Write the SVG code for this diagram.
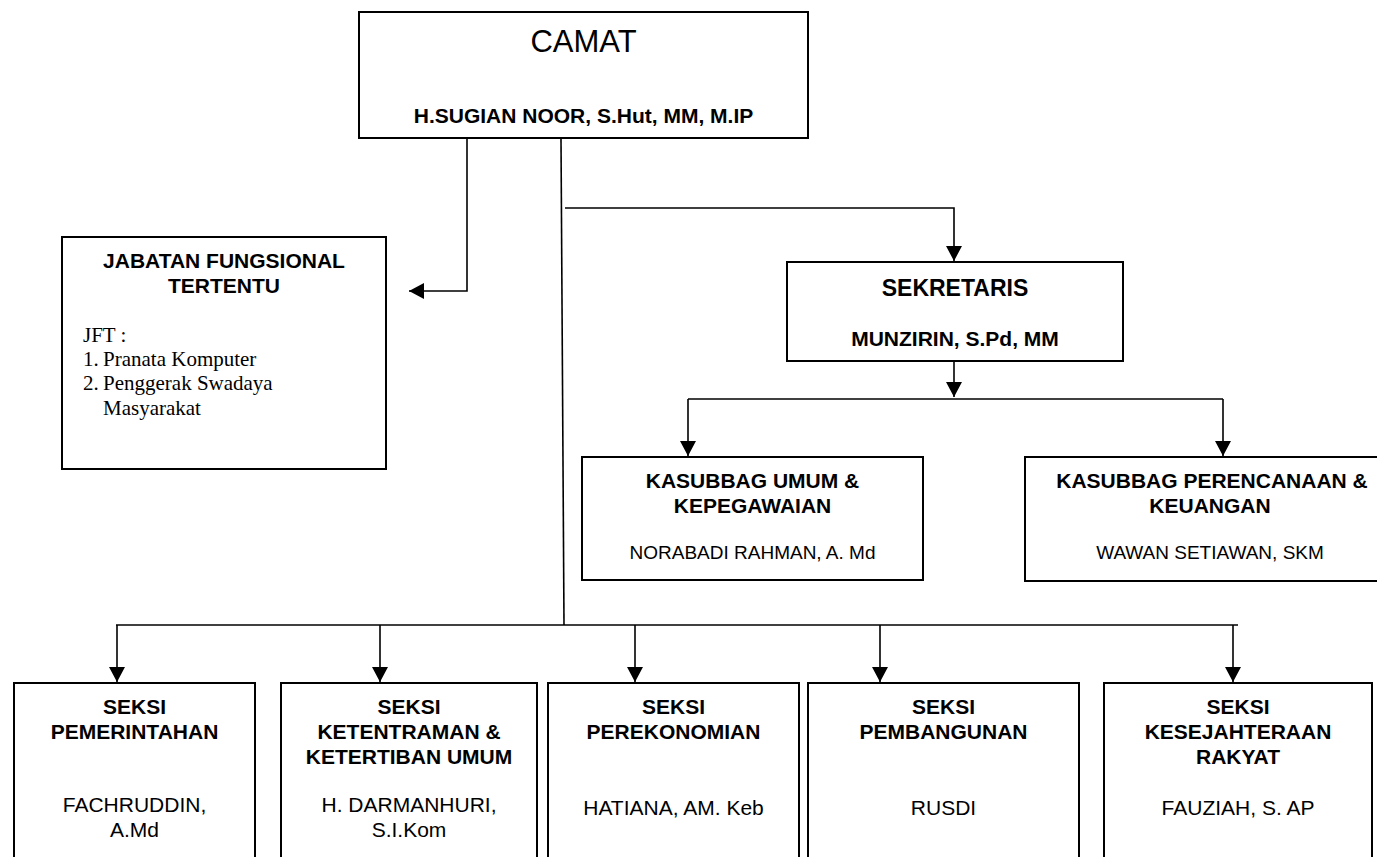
<svg xmlns="http://www.w3.org/2000/svg" width="1377" height="857" viewBox="0 0 1377 857">
<style>
.box{fill:#fff;stroke:#000;stroke-width:2}
.ln{fill:none;stroke:#000;stroke-width:1.6}
.t{font-family:"Liberation Sans",Arial,sans-serif;font-size:21px;fill:#000;text-anchor:middle}
.b{font-weight:bold}
.s{font-family:"Liberation Serif","Times New Roman",serif;font-size:21px;fill:#000}
</style>
<defs>
<marker id="arr" markerUnits="userSpaceOnUse" markerWidth="16" markerHeight="16" refX="15" refY="8" orient="auto">
<path d="M0,0 L15,8 L0,16 z" fill="#000"/>
</marker>
</defs>
<rect width="1377" height="857" fill="#fff"/>
<g id="connectors">
<polyline class="ln" points="467,139 467,291 409,291" marker-end="url(#arr)"/>
<line class="ln" x1="561" y1="139" x2="564" y2="625"/>
<polyline class="ln" points="565,208 954,208 954,261" marker-end="url(#arr)"/>
<polyline class="ln" points="954,362 954,397" marker-end="url(#arr)"/>
<line class="ln" x1="688" y1="399" x2="1223" y2="399"/>
<polyline class="ln" points="688,399 688,456" marker-end="url(#arr)"/>
<polyline class="ln" points="1223,399 1223,456" marker-end="url(#arr)"/>
<line class="ln" x1="116" y1="625" x2="1238" y2="625"/>
<polyline class="ln" points="117,625 117,682" marker-end="url(#arr)"/>
<polyline class="ln" points="380,625 380,682" marker-end="url(#arr)"/>
<polyline class="ln" points="635,625 635,682" marker-end="url(#arr)"/>
<polyline class="ln" points="880,625 880,682" marker-end="url(#arr)"/>
<polyline class="ln" points="1233,625 1233,682" marker-end="url(#arr)"/>
</g>
<g id="camat">
<rect class="box" x="359" y="12" width="449" height="126"/>
<text class="t" x="583.5" y="52" style="font-size:31px">CAMAT</text>
<text class="t b" x="583.5" y="123">H.SUGIAN NOOR, S.Hut, MM, M.IP</text>
</g>
<g id="jft">
<rect class="box" x="62" y="237" width="324" height="232"/>
<text class="t b" x="224" y="268">JABATAN FUNGSIONAL</text>
<text class="t b" x="224" y="293">TERTENTU</text>
<text class="s" x="83" y="342">JFT :</text>
<text class="s" y="366"><tspan x="83">1.</tspan><tspan x="103">Pranata Komputer</tspan></text>
<text class="s" y="390"><tspan x="83">2.</tspan><tspan x="103">Penggerak Swadaya</tspan></text>
<text class="s" x="103" y="415">Masyarakat</text>
</g>
<g id="sekretaris">
<rect class="box" x="787" y="262" width="336" height="99"/>
<text class="t b" x="955" y="296" style="font-size:23px">SEKRETARIS</text>
<text class="t b" x="955" y="346">MUNZIRIN, S.Pd, MM</text>
</g>
<g id="kasubbag-umum">
<rect class="box" x="582" y="457" width="341" height="123"/>
<text class="t b" x="752.5" y="488">KASUBBAG UMUM &amp;</text>
<text class="t b" x="752.5" y="513">KEPEGAWAIAN</text>
<text class="t" x="752.5" y="559" style="font-size:19px">NORABADI RAHMAN, A. Md</text>
</g>
<g id="kasubbag-perencanaan">
<rect class="box" x="1025" y="457" width="372" height="124"/>
<text class="t b" x="1212" y="488">KASUBBAG PERENCANAAN &amp;</text>
<text class="t b" x="1210" y="513">KEUANGAN</text>
<text class="t" x="1210" y="559" style="font-size:19px">WAWAN SETIAWAN, SKM</text>
</g>
<g id="seksi-pemerintahan">
<rect class="box" x="14" y="683" width="241" height="190"/>
<text class="t b" x="134.5" y="714">SEKSI</text>
<text class="t b" x="134.5" y="739">PEMERINTAHAN</text>
<text class="t" x="134.5" y="812">FACHRUDDIN,</text>
<text class="t" x="134.5" y="837">A.Md</text>
</g>
<g id="seksi-ketentraman">
<rect class="box" x="281" y="683" width="256" height="190"/>
<text class="t b" x="409" y="714">SEKSI</text>
<text class="t b" x="409" y="739">KETENTRAMAN &amp;</text>
<text class="t b" x="409" y="764">KETERTIBAN UMUM</text>
<text class="t" x="409" y="812">H. DARMANHURI,</text>
<text class="t" x="409" y="837">S.I.Kom</text>
</g>
<g id="seksi-perekonomian">
<rect class="box" x="548" y="683" width="251" height="190"/>
<text class="t b" x="673.5" y="714">SEKSI</text>
<text class="t b" x="673.5" y="739">PEREKONOMIAN</text>
<text class="t" x="673.5" y="815">HATIANA, AM. Keb</text>
</g>
<g id="seksi-pembangunan">
<rect class="box" x="808" y="683" width="271" height="190"/>
<text class="t b" x="943.5" y="714">SEKSI</text>
<text class="t b" x="943.5" y="739">PEMBANGUNAN</text>
<text class="t" x="943.5" y="815">RUSDI</text>
</g>
<g id="seksi-kesejahteraan">
<rect class="box" x="1104" y="683" width="268" height="190"/>
<text class="t b" x="1238" y="714">SEKSI</text>
<text class="t b" x="1238" y="739">KESEJAHTERAAN</text>
<text class="t b" x="1238" y="764">RAKYAT</text>
<text class="t" x="1238" y="815">FAUZIAH, S. AP</text>
</g>
</svg>
